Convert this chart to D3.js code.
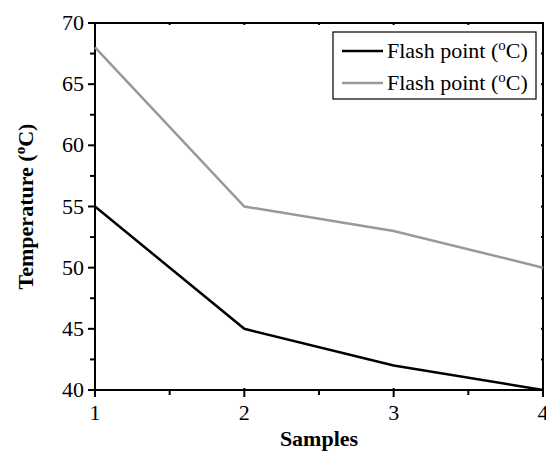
<!DOCTYPE html>
<html>
<head>
<meta charset="utf-8">
<script src="https://cdnjs.cloudflare.com/ajax/libs/d3/7.8.5/d3.min.js"></script>
<style>
  body { margin: 0; background: #fff; }
  svg text { font-family: "Liberation Serif", "Times New Roman", serif; }
</style>
</head>
<body>
<div id="chart"></div>
<script>
const samples = [1, 2, 3, 4];
const flash_black = [55, 45, 42, 40];
const flash_grey = [68, 55, 53, 50];
const y_ticks = [40, 45, 50, 55, 60, 65, 70];
const legend_labels = ["Flash point (", "Flash point ("];

const W = 546, H = 452;
const margin = {top: 23, right: 3, bottom: 62, left: 95};
const fs = 22;

const svg = d3.select("#chart").append("svg")
    .attr("width", W)
    .attr("height", H);

const x = d3.scaleLinear().domain([1, 4]).range([margin.left, W - margin.right]);
const y = d3.scaleLinear().domain([40, 70]).range([H - margin.bottom, margin.top]);

const minorX = d3.range(1.5, 4, 1);
const minorY = d3.range(42.5, 70, 5);

// frame
svg.append("rect")
    .attr("x", x(1)).attr("y", y(70))
    .attr("width", x(4) - x(1)).attr("height", y(40) - y(70))
    .attr("fill", "none").attr("stroke", "#000").attr("stroke-width", 2);

const ticks = svg.append("g").attr("stroke", "#000").attr("stroke-width", 2);

// bottom axis ticks
samples.forEach(function(d){
    ticks.append("line").attr("x1", x(d)).attr("x2", x(d)).attr("y1", y(40) - 2).attr("y2", y(40) + 7);
    ticks.append("line").attr("x1", x(d)).attr("x2", x(d)).attr("y1", y(70)).attr("y2", y(70) + 2);
});
minorX.forEach(function(d){
    ticks.append("line").attr("x1", x(d)).attr("x2", x(d)).attr("y1", y(40)).attr("y2", y(40) + 5);
    ticks.append("line").attr("x1", x(d)).attr("x2", x(d)).attr("y1", y(70)).attr("y2", y(70) + 2);
});
// left axis ticks
y_ticks.forEach(function(d){
    ticks.append("line").attr("y1", y(d)).attr("y2", y(d)).attr("x1", x(1) - 7).attr("x2", x(1));
    ticks.append("line").attr("y1", y(d)).attr("y2", y(d)).attr("x1", x(4) - 2).attr("x2", x(4));
});
minorY.forEach(function(d){
    ticks.append("line").attr("y1", y(d)).attr("y2", y(d)).attr("x1", x(1) - 5).attr("x2", x(1));
    ticks.append("line").attr("y1", y(d)).attr("y2", y(d)).attr("x1", x(4) - 2).attr("x2", x(4));
});

// tick labels
svg.selectAll(".xlab").data(samples).enter().append("text")
    .attr("class", "xlab")
    .attr("x", function(d){ return x(d); })
    .attr("y", y(40) + 30)
    .attr("text-anchor", "middle")
    .attr("font-size", fs)
    .text(function(d){ return d; });

svg.selectAll(".ylab").data(y_ticks).enter().append("text")
    .attr("class", "ylab")
    .attr("x", x(1) - 11)
    .attr("y", function(d){ return y(d) + 7; })
    .attr("text-anchor", "end")
    .attr("font-size", fs)
    .text(function(d){ return d; });

// axis titles
svg.append("text")
    .attr("x", (x(1) + x(4)) / 2)
    .attr("y", H - 6)
    .attr("text-anchor", "middle")
    .attr("font-size", fs)
    .attr("font-weight", "bold")
    .text("Samples");

const yt = svg.append("text")
    .attr("transform", "translate(33," + ((y(40) + y(70)) / 2) + ") rotate(-90)")
    .attr("text-anchor", "middle")
    .attr("font-size", fs)
    .attr("font-weight", "bold");
yt.append("tspan").text("Temperature (");
yt.append("tspan").attr("font-size", 15).attr("dy", -8).text("o");
yt.append("tspan").attr("dy", 8).text("C)");

// lines
const line = d3.line()
    .x(function(d, i){ return x(samples[i]); })
    .y(function(d){ return y(d); });

svg.append("path").datum(flash_grey)
    .attr("d", line).attr("fill", "none")
    .attr("stroke", "#999").attr("stroke-width", 2.5);

svg.append("path").datum(flash_black)
    .attr("d", line).attr("fill", "none")
    .attr("stroke", "#000").attr("stroke-width", 2.5);

// legend
const lg = svg.append("g");
lg.append("rect")
    .attr("x", 333).attr("y", 32).attr("width", 203).attr("height", 67)
    .attr("fill", "#fff").attr("stroke", "#000").attr("stroke-width", 1.2);

const legend_colors = ["#000", "#999"];
legend_labels.forEach(function(lab, i){
    const yy = 51 + i * 32;
    lg.append("line").attr("x1", 342).attr("x2", 383).attr("y1", yy).attr("y2", yy)
        .attr("stroke", legend_colors[i]).attr("stroke-width", 2.5);
    const t = lg.append("text").attr("x", 387).attr("y", yy + 7).attr("font-size", fs);
    t.append("tspan").text(lab);
    t.append("tspan").attr("font-size", 15).attr("dy", -8).text("o");
    t.append("tspan").attr("dy", 8).text("C)");
});
</script>
</body>
</html>
